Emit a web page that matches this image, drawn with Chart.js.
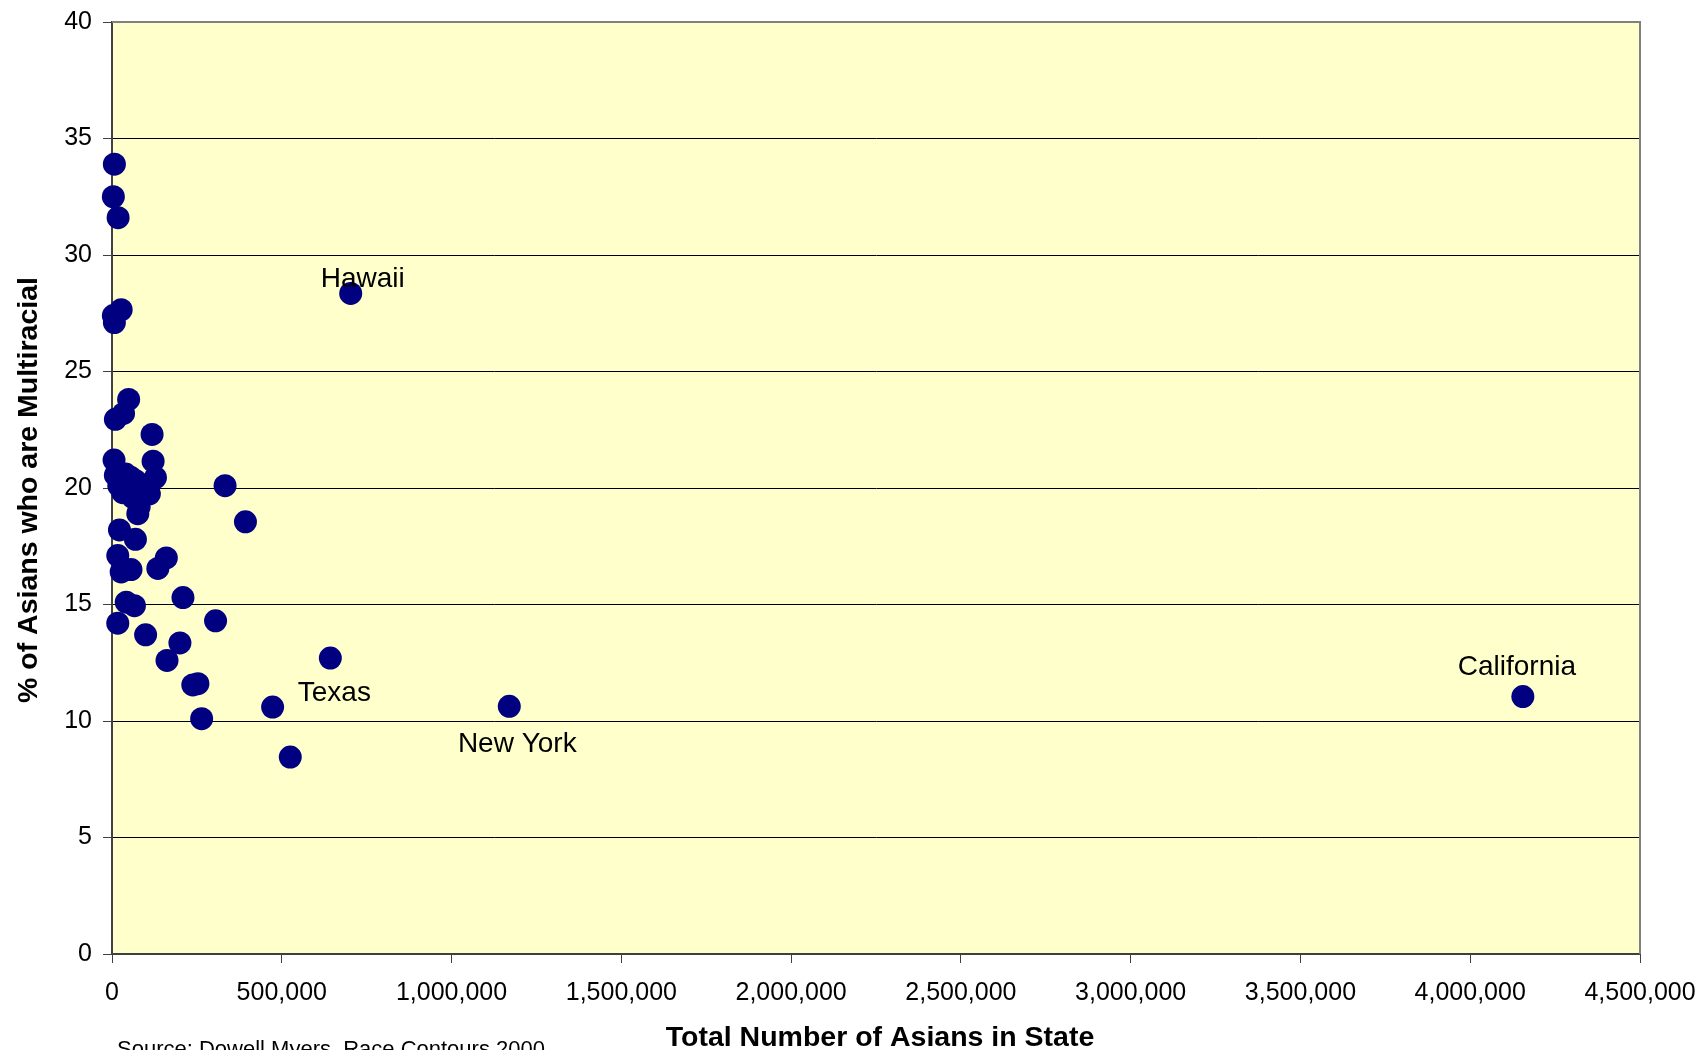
<!DOCTYPE html>
<html>
<head>
<meta charset="utf-8">
<script src="https://cdn.jsdelivr.net/npm/chart.js@4.4.0/dist/chart.umd.min.js"></script>
<style>
  html, body { margin: 0; padding: 0; background: #fff; }
  #wrap { width: 1703px; height: 1050px; }
</style>
</head>
<body>
<div id="wrap"><canvas id="chart" width="1703" height="1050"></canvas></div>
<script>
// total Asians (alone or in combination) per state, and % of them multiracial
const asiansInState = [
  7000, 4000, 18000, 27000, 4000, 7000, 49000, 34000, 10000, 118000,
  6000, 121000, 10000, 128000, 333000, 56000, 32000, 110000, 76000, 22000,
  69000, 17000, 160000, 56000, 27000, 135000, 42000, 66000, 209000, 17000,
  99000, 305000, 200000, 162000, 238000, 253000, 264000, 473000, 525000, 643000,
  703000, 1170000, 4155000, 393000, 71000, 61000, 20000, 45000, 80000, 40000
];
const pctMultiracial = [
  33.9, 32.5, 31.6, 27.65, 27.4, 27.1, 23.8, 23.2, 22.95, 22.3,
  21.2, 21.15, 20.55, 20.45, 20.1, 20.45, 19.8, 19.75, 18.9, 18.2,
  17.8, 17.1, 17.0, 16.5, 16.4, 16.55, 15.1, 14.95, 15.3, 14.2,
  13.7, 14.3, 13.35, 12.6, 11.55, 11.6, 10.1, 10.6, 8.45, 12.7,
  28.35, 10.63, 11.05, 18.55, 20.3, 19.6, 20.1, 20.0, 19.2, 20.6
];
const labelledStates = ['Hawaii', 'Texas', 'New York', 'California'];
const labelledIndex = [40, 39, 41, 42];

const xMax = 4500000, xStep = 500000;
const yMax = 40, yStep = 5;

const xTitle = 'Total Number of Asians in State';
const yTitle = '% of Asians who are Multiracial';
const sourceNote = 'Source: Dowell Myers, Race Contours 2000';

// label position relative to its point (px)
const labelOffsets = {
  'Hawaii': [12, -6],
  'Texas': [4, 43],
  'New York': [8, 46],
  'California': [-6, -22]
};

const FONT = "'Liberation Sans', Arial, sans-serif";

const chartDecor = {
  id: 'chartDecor',
  beforeDraw(chart) {
    const { ctx, chartArea: a } = chart;
    ctx.save();
    ctx.fillStyle = '#FFFFCC';
    ctx.fillRect(a.left, a.top, a.right - a.left, a.bottom - a.top);
    ctx.restore();
  },
  beforeDatasetsDraw(chart) {
    const { ctx, chartArea: a } = chart;
    ctx.save();
    ctx.strokeStyle = '#808080';
    ctx.lineWidth = 2;
    ctx.beginPath();
    ctx.moveTo(a.left, a.top);
    ctx.lineTo(a.right, a.top);
    ctx.lineTo(a.right, a.bottom);
    ctx.stroke();
    ctx.restore();
  },
  afterDatasetsDraw(chart) {
    const { ctx } = chart;
    const meta = chart.getDatasetMeta(0);
    ctx.save();
    ctx.fillStyle = '#000';
    ctx.font = '28px ' + FONT;
    ctx.textAlign = 'center';
    ctx.textBaseline = 'alphabetic';
    labelledStates.forEach((name, i) => {
      const pt = meta.data[labelledIndex[i]];
      const off = labelOffsets[name];
      ctx.fillText(name, pt.x + off[0], pt.y + off[1]);
    });
    ctx.restore();
  },
  afterDraw(chart) {
    const { ctx, chartArea: a } = chart;
    ctx.save();
    ctx.fillStyle = '#000';
    ctx.font = 'bold 28.5px ' + FONT;
    ctx.textAlign = 'center';
    ctx.textBaseline = 'alphabetic';
    ctx.fillText(xTitle, (a.left + a.right) / 2 + 4, 1046);

    ctx.translate(37, (a.top + a.bottom) / 2 + 2);
    ctx.rotate(-Math.PI / 2);
    ctx.fillText(yTitle, 0, 0);
    ctx.restore();

    ctx.save();
    ctx.fillStyle = '#000';
    ctx.font = '22px ' + FONT;
    ctx.textAlign = 'left';
    ctx.textBaseline = 'alphabetic';
    ctx.fillText(sourceNote, 117, 1056);
    ctx.restore();
  }
};

const points = asiansInState.map((v, i) => ({ x: v, y: pctMultiracial[i] }));

new Chart(document.getElementById('chart'), {
  type: 'scatter',
  data: {
    datasets: [{
      data: points,
      backgroundColor: '#000080',
      borderColor: '#000080',
      borderWidth: 0,
      pointRadius: 11.5,
      pointHoverRadius: 11.5,
      clip: false
    }]
  },
  options: {
    responsive: false,
    animation: false,
    devicePixelRatio: 1,
    layout: { padding: { left: 0, top: 22, right: 63, bottom: 0 } },
    plugins: { legend: { display: false }, tooltip: { enabled: false } },
    scales: {
      x: {
        type: 'linear',
        min: 0, max: xMax,
        afterFit: (s) => { s.height = 96; s.paddingLeft = 0; s.paddingRight = 0; },
        grid: { drawOnChartArea: false, drawTicks: true, tickLength: 9, tickColor: '#404040', tickWidth: 1 },
        border: { display: true, color: '#404040', width: 2 },
        ticks: {
          stepSize: xStep,
          autoSkip: false,
          maxRotation: 0,
          padding: 15,
          color: '#000',
          font: { family: FONT, size: 25 },
          callback: (v) => Number(v).toLocaleString('en-US')
        }
      },
      y: {
        type: 'linear',
        min: 0, max: yMax,
        afterFit: (s) => { s.width = 112; s.paddingTop = 0; s.paddingBottom = 0; },
        grid: { color: '#000', lineWidth: 1, drawTicks: true, tickLength: 9, tickColor: '#404040' },
        border: { display: true, color: '#404040', width: 2 },
        ticks: {
          stepSize: yStep,
          padding: 11,
          color: '#000',
          font: { family: FONT, size: 25 }
        }
      }
    }
  },
  plugins: [chartDecor]
});
</script>
</body>
</html>
